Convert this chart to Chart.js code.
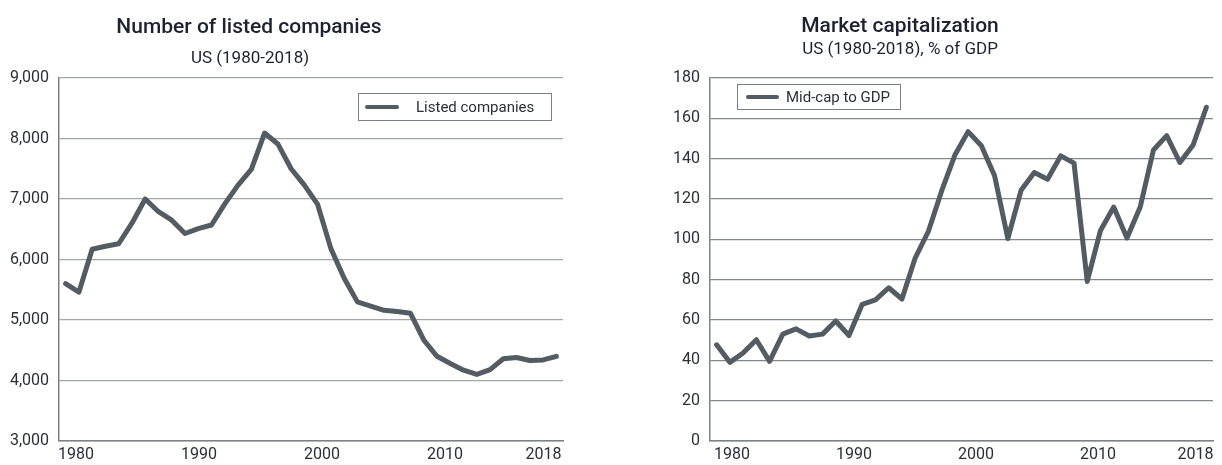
<!DOCTYPE html>
<html>
<head>
<meta charset="utf-8">
<script src="https://cdn.jsdelivr.net/npm/chart.js@4.4.1/dist/chart.umd.min.js"></script>
<style>
  body { margin: 0; background: #fff; }
  #wrap { position: relative; width: 1222px; height: 465px; font-family: Roboto, sans-serif; }
  canvas { position: absolute; top: 0; }
  .t { position: absolute; transform: translateX(-50%); white-space: nowrap; color: #1d2231; }
  .t1 { font-size: 21px; font-weight: 500; line-height: 24px; }
  .t2 { font-size: 17px; line-height: 20px; }
</style>
</head>
<body>
<div id="wrap">
  <canvas id="listedChart" width="611" height="465" style="left:0"></canvas>
  <canvas id="capChart" width="611" height="465" style="left:611px"></canvas>
  <div class="t t1" style="left:249px; top:14px">Number of listed companies</div>
  <div class="t t2" style="left:250px; top:47px">US (1980-2018)</div>
  <div class="t t1" style="left:900px; top:13px">Market capitalization</div>
  <div class="t t2" style="left:900px; top:38px">US (1980-2018), % of GDP</div>
</div>
<script>
// data
const listedYears = [1981, 1982, 1983, 1984, 1985, 1986, 1987, 1988, 1989, 1990,
  1991, 1992, 1993, 1994, 1995, 1996, 1997, 1998, 1999, 2000,
  2001, 2002, 2003, 2004, 2005, 2006, 2007, 2008, 2009, 2010,
  2011, 2012, 2013, 2014, 2015, 2016, 2017, 2018];
const listedCompanies = [5600, 5460, 6170, 6220, 6260, 6600, 7000, 6790, 6650, 6430,
  6510, 6570, 6920, 7230, 7490, 8090, 7910, 7500, 7230, 6910,
  6180, 5690, 5300, 5230, 5160, 5140, 5110, 4670, 4400, 4280,
  4170, 4100, 4180, 4360, 4380, 4330, 4340, 4400];

const capYears = [1980, 1981, 1982, 1983, 1984, 1985, 1986, 1987, 1988, 1989,
  1990, 1991, 1992, 1993, 1994, 1995, 1996, 1997, 1998, 1999,
  2000, 2001, 2002, 2003, 2004, 2005, 2006, 2007, 2008, 2009,
  2010, 2011, 2012, 2013, 2014, 2015, 2016, 2017];
const midCapToGdp = [47.7, 39, 43.6, 50.2, 39.5, 53, 55.6, 52.1, 53, 59.5,
  52.3, 67.8, 70, 76, 70.4, 90.7, 104, 124, 141.8, 153.4,
  146.4, 131.5, 100.4, 124.3, 133.1, 129.8, 141.4, 137.8, 79.1, 104.4,
  116, 100.7, 116, 144.3, 151.4, 138.1, 146.8, 165.5];

const yearTicks = [1980, 1990, 2000, 2010, 2018];

const LINE = '#535b63';
const TEXT = '#2b2f37';

// legend drawn as a framed box inside the plot area
const boxLegend = {
  id: 'boxLegend',
  afterDraw(chart, args, o) {
    const { ctx, chartArea } = chart;
    const ds = chart.data.datasets[0];
    const x = o.right != null ? chartArea.right - o.right - o.width : chartArea.left + o.left;
    const y = chartArea.top + o.top;
    const mid = y + o.height / 2;
    ctx.save();
    ctx.fillStyle = '#fff';
    ctx.fillRect(x, y, o.width, o.height);
    ctx.strokeStyle = '#7b8086';
    ctx.lineWidth = 1;
    ctx.strokeRect(x + 0.5, y + 0.5, o.width - 1, o.height - 1);
    ctx.strokeStyle = ds.borderColor;
    ctx.lineWidth = 4;
    ctx.lineCap = 'round';
    ctx.beginPath();
    ctx.moveTo(x + o.pad, mid);
    ctx.lineTo(x + o.pad + o.sample, mid);
    ctx.stroke();
    ctx.fillStyle = TEXT;
    ctx.font = '15px Roboto';
    ctx.textBaseline = 'middle';
    ctx.fillText(ds.label, x + o.textX, mid + 1);
    ctx.restore();
  }
};

function lineChart(id, years, values, label, y, look) {
  return new Chart(document.getElementById(id), {
    type: 'line',
    data: {
      labels: years,
      datasets: [{
        label: label,
        data: values,
        borderColor: LINE,
        borderWidth: 5,
        borderJoinStyle: 'round',
        borderCapStyle: 'round',
        pointRadius: 0,
        tension: 0
      }]
    },
    plugins: [boxLegend],
    options: {
      responsive: false,
      animation: false,
      layout: { padding: { top: 78, right: look.padRight, left: 0, bottom: 0 } },
      plugins: {
        legend: { display: false },
        tooltip: { enabled: false },
        boxLegend: look.legend
      },
      scales: {
        x: { display: false, offset: true },
        xl: {
          type: 'linear',
          axis: 'x',
          position: 'bottom',
          min: look.labelMin,
          max: look.labelMax,
          afterBuildTicks: (s) => { s.ticks = yearTicks.map(v => ({ value: v })); },
          afterFit: (s) => { s.height = 24; },
          grid: { display: false, drawTicks: false },
          border: { display: true, color: '#7d8288', width: 1.5 },
          ticks: {
            autoSkip: false, maxRotation: 0, padding: 4,
            color: TEXT, font: { family: 'Roboto', size: 16 },
            callback: (v) => String(v)
          }
        },
        y: {
          min: y.min,
          max: y.max,
          afterFit: (s) => { s.width = look.yWidth; },
          ticks: {
            stepSize: y.step, padding: 10,
            color: TEXT, font: { family: 'Roboto', size: 16 },
            callback: (v) => v.toLocaleString('en-US')
          },
          grid: { color: look.grid, lineWidth: 1.2, drawTicks: false },
          border: { display: true, color: '#7d8288', width: 1.5 }
        }
      }
    }
  });
}

lineChart('listedChart', listedYears, listedCompanies, 'Listed companies',
  { min: 3000, max: 9000, step: 1000 },
  {
    padRight: 48, yWidth: 59, grid: '#a3a7ab',
    labelMin: 1978.62, labelMax: 2019.59,
    legend: { right: 11, top: 15, width: 194, height: 28, pad: 9, sample: 30, textX: 58 }
  });

lineChart('capChart', capYears, midCapToGdp, 'Mid-cap to GDP',
  { min: 0, max: 180, step: 20 },
  {
    padRight: 9, yWidth: 99, grid: '#81868b',
    labelMin: 1978.2, labelMax: 2019.43,
    legend: { left: 27, top: 6, width: 164, height: 26, pad: 11, sample: 29, textX: 49 }
  });
</script>
</body>
</html>
